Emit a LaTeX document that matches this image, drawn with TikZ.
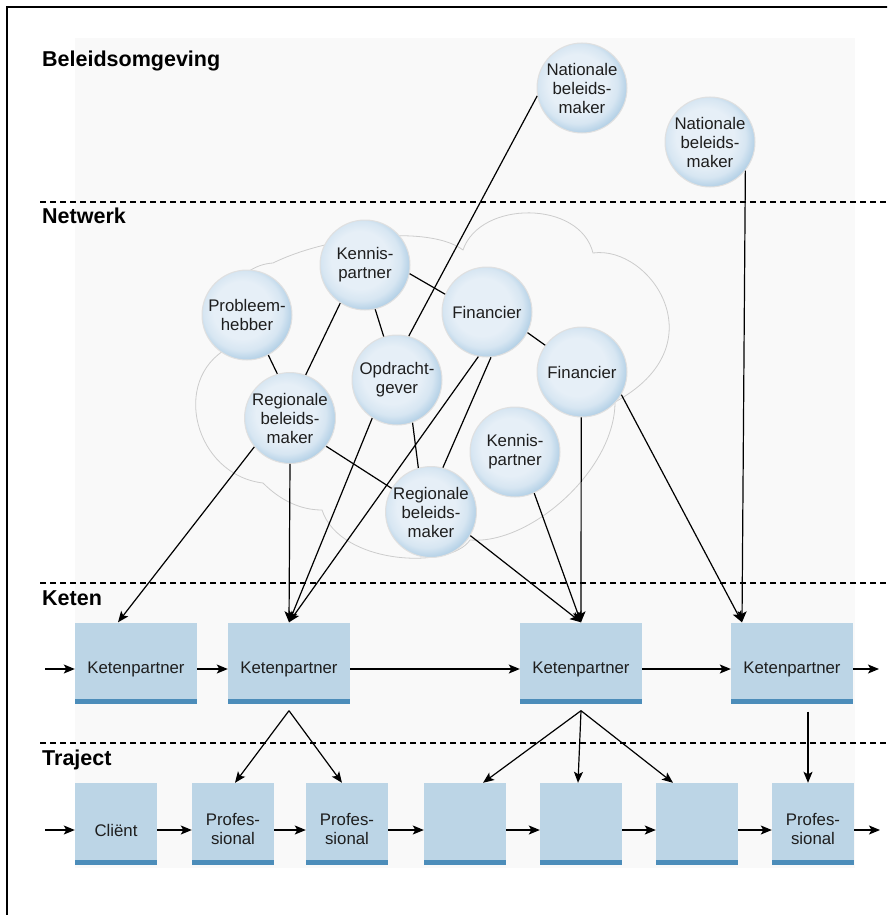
\documentclass[tikz,border=0pt]{standalone}
\usepackage{fontspec}
\setmainfont{Liberation Sans}
\usetikzlibrary{arrows.meta}
\definecolor{bubA}{HTML}{E6EFF7}
\definecolor{bubB}{HTML}{D7E6F2}
\definecolor{bubC}{HTML}{B3D0E6}
\definecolor{bubD}{HTML}{8DB7D6}
\definecolor{boxfill}{HTML}{BCD5E6}
\definecolor{boxband}{HTML}{4C8DBA}
\definecolor{bgray}{HTML}{F9F9F9}
\definecolor{cloudline}{HTML}{CCCCCC}
\definecolor{txt}{HTML}{1E1E1E}
\pgfdeclareradialshading{bubble}{\pgfpoint{-4bp}{4bp}}{color(0bp)=(bubA);color(16bp)=(bubA);color(22bp)=(bubB);color(27bp)=(bubC);color(31bp)=(bubD);color(50bp)=(bubD)}
\newcommand{\lowtxt}[2]{\raisebox{#1}[\height][\depth]{#2}}
\begin{document}
\begin{tikzpicture}[x=1pt,y=-1pt,
  bub/.style={circle, minimum size=90pt, inner sep=0pt, shade, shading=bubble, draw=black!12, line width=1pt, align=center, font=\fontsize{16.8}{19}\selectfont, text=txt},
  kbox/.style={rectangle, minimum width=122pt, minimum height=81pt, inner sep=0pt, fill=boxfill, font=\fontsize{16.8}{19}\selectfont, text=txt,
    path picture={\fill[boxband] (path picture bounding box.south west) rectangle ([yshift=5pt]path picture bounding box.south east);}},
  tbox/.style={kbox, minimum width=82pt, minimum height=82pt},
  conn/.style={line width=1.2pt},
  arr/.style={conn, -{Stealth[length=11pt,width=9pt,inset=2.5pt]}},
  hdr/.style={anchor=base west, font=\bfseries\fontsize{21.5}{24}\selectfont, inner sep=0pt},
  sepline/.style={dash pattern=on 6pt off 4pt, line width=1.1pt},
  cloud/.style={draw=cloudline, line width=0.8pt}
]
\useasboundingbox (0,0) rectangle (887,915);
\clip (0,0) rectangle (887,915);
% background
\fill[bgray] (75,38) rectangle (855,868);
% frame
\draw[line width=2pt] (7,920) -- (7,7) -- (890,7);
% separators
\draw[sepline] (40,202) -- (887,202);
\draw[sepline] (40,583) -- (887,583);
\draw[sepline] (40,743) -- (887,743);
% headers
\node[hdr] (h1) at (42,67) {Beleidsomgeving};
\node[hdr] (h2) at (42,223) {Netwerk};
\node[hdr] (h3) at (42,605) {Keten};
\node[hdr] (h4) at (42,765) {Traject};
% cloud
\draw[cloud] (273,263) .. controls (330,235) and (430,225) .. (463,250)
  .. controls (480,200) and (580,200) .. (593,253)
  .. controls (650,245) and (720,345) .. (615,402)
  .. controls (615,470) and (530,545) .. (470,540)
  .. controls (450,570) and (340,565) .. (322,510)
  .. controls (300,510) and (280,500) .. (263,483)
  .. controls (195,475) and (170,380) .. (228,348)
  .. controls (215,300) and (240,265) .. (273,263) -- cycle;
% circles
\node[bub] (nat1) at (582,88) {Nationale\\beleids-\\maker};
\node[bub] (nat2) at (710,142) {Nationale\\beleids-\\maker};
\node[bub] (kp1) at (365,265) {Kennis-\\partner};
\node[bub] (pb) at (247,315) {Probleem-\\hebber};
\node[bub] (opd) at (397,380) {Opdracht-\\gever};
\node[bub] (reg1) at (290,418) {Regionale\\beleids-\\maker};
\node[bub] (fin1) at (487,312) {Financier};
\node[bub] (fin2) at (582,372) {Financier};
\node[bub] (kp2) at (515,452) {Kennis-\\partner};
\node[bub] (reg2) at (431,512) {Regionale\\beleids-\\maker};
% keten boxes
\node[kbox] (k1) at (136,663) {\lowtxt{-6pt}{Ketenpartner}};
\node[kbox] (k2) at (289,663) {\lowtxt{-6pt}{Ketenpartner}};
\node[kbox] (k3) at (581,663) {\lowtxt{-6pt}{Ketenpartner}};
\node[kbox] (k4) at (792,663) {\lowtxt{-6pt}{Ketenpartner}};
% traject boxes
\node[tbox] (t1) at (116,824) {\lowtxt{-6pt}{Cliënt}};
\node[tbox] (t2) at (233,824) {\lowtxt{-7pt}{\begin{tabular}{@{}c@{}}Profes-\\sional\end{tabular}}};
\node[tbox] (t3) at (347,824) {\lowtxt{-7pt}{\begin{tabular}{@{}c@{}}Profes-\\sional\end{tabular}}};
\node[tbox] (t4) at (465,824) {};
\node[tbox] (t5) at (581,824) {};
\node[tbox] (t6) at (697,824) {};
\node[tbox] (t7) at (813,824) {\lowtxt{-7pt}{\begin{tabular}{@{}c@{}}Profes-\\sional\end{tabular}}};
% free ends
\coordinate (kin) at (45,669);
\coordinate (kout) at (879,669);
\coordinate (tin) at (45,830);
\coordinate (tout) at (880,830);
% network lines
\draw[conn] (kp1.-11) -- (fin1.157);
\draw[conn] (kp1.-77) -- (opd.107);
\draw[conn] (kp1.-123) -- (reg1.70);
\draw[conn] (pb.-62) -- (reg1.106);
\draw[conn] (fin1.-27) -- (fin2.144);
\draw[conn] (reg1.-38) -- (reg2.149);
\draw[conn] (opd.-70) -- (reg2.106);
\draw[conn] (fin1.-85) -- (reg2.75);
\draw[conn] (nat1.190) -- (opd.75);
% arrows to keten
\draw[arr] (reg1.-141) -- ([xshift=-18pt]k1.north);
\draw[arr] (reg1.-90) -- (k2.north);
\draw[arr] (opd.-123) -- (k2.north);
\draw[arr] (fin1.-101) -- (k2.north);
\draw[arr] (reg2.-31) -- (k3.north);
\draw[arr] (kp2.-65) -- (k3.north);
\draw[arr] (fin2.-91) -- (k3.north);
\draw[arr] (nat2.-39) -- ([xshift=-50pt]k4.north);
\draw[arr] (fin2.-30) -- ([xshift=-50pt]k4.north);
% keten chain
\draw[arr] (kin) -- ([yshift=-6pt]k1.west);
\draw[arr] ([yshift=-6pt]k1.east) -- ([yshift=-6pt]k2.west);
\draw[arr] ([yshift=-6pt]k2.east) -- ([yshift=-6pt]k3.west);
\draw[arr] ([yshift=-6pt]k3.east) -- ([yshift=-6pt]k4.west);
\draw[arr] ([yshift=-6pt]k4.east) -- (kout);
% keten to traject
\draw[arr] ([yshift=-7pt]k2.south) -- ([xshift=2pt]t2.north);
\draw[arr] ([yshift=-7pt]k2.south) -- ([xshift=-5pt]t3.north);
\draw[arr] ([yshift=-7pt]k3.south) -- ([xshift=18pt]t4.north);
\draw[arr] ([yshift=-7pt]k3.south) -- ([xshift=-3pt]t5.north);
\draw[arr] ([yshift=-7pt]k3.south) -- ([xshift=-24pt]t6.north);
\draw[arr] ([xshift=16pt,yshift=-8pt]k4.south) -- ([xshift=-5pt]t7.north);
% traject chain
\draw[arr] (tin) -- ([yshift=-6pt]t1.west);
\draw[arr] ([yshift=-6pt]t1.east) -- ([yshift=-6pt]t2.west);
\draw[arr] ([yshift=-6pt]t2.east) -- ([yshift=-6pt]t3.west);
\draw[arr] ([yshift=-6pt]t3.east) -- ([yshift=-6pt]t4.west);
\draw[arr] ([yshift=-6pt]t4.east) -- ([yshift=-6pt]t5.west);
\draw[arr] ([yshift=-6pt]t5.east) -- ([yshift=-6pt]t6.west);
\draw[arr] ([yshift=-6pt]t6.east) -- ([yshift=-6pt]t7.west);
\draw[arr] ([yshift=-6pt]t7.east) -- (tout);
\end{tikzpicture}
\end{document}
